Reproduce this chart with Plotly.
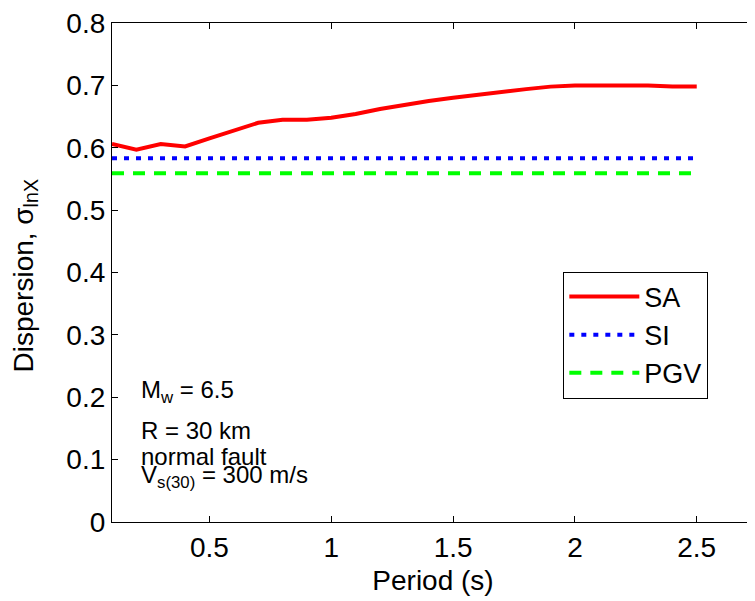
import plotly.graph_objects as go

period = [0.1, 0.2, 0.3, 0.4, 0.5, 0.6, 0.7, 0.8, 0.9, 1.0, 1.1, 1.2, 1.3, 1.4, 1.5,
          1.6, 1.7, 1.8, 1.9, 2.0, 2.1, 2.2, 2.3, 2.4, 2.5]
sa = [0.606, 0.597, 0.606, 0.602, 0.615, 0.627, 0.640, 0.645, 0.645, 0.648, 0.654,
      0.662, 0.669, 0.675, 0.680, 0.685, 0.689, 0.694, 0.698, 0.700, 0.700, 0.700,
      0.700, 0.698, 0.698]
si_value = 0.583
pgv_value = 0.559
si = [si_value for _ in period]
pgv = [pgv_value for _ in period]

x_ticks = [0.5, 1, 1.5, 2, 2.5]
x_ticklabels = ["0.5", "1", "1.5", "2", "2.5"]
y_ticks = [0, 0.1, 0.2, 0.3, 0.4, 0.5, 0.6, 0.7, 0.8]
y_ticklabels = ["0", "0.1", "0.2", "0.3", "0.4", "0.5", "0.6", "0.7", "0.8"]

FONT = "Liberation Sans, Arial, sans-serif"

fig = go.Figure()
fig.add_trace(go.Scatter(x=period, y=sa, mode="lines", name="SA",
                         line=dict(color="#ff0000", width=4)))
fig.add_trace(go.Scatter(x=period, y=si, mode="lines", name="SI",
                         line=dict(color="#0000ff", width=4, dash="5px,7px")))
fig.add_trace(go.Scatter(x=period, y=pgv, mode="lines", name="PGV",
                         line=dict(color="#00ff00", width=4, dash="12px,9px")))

ann_lines = [
    ("M<sub>w</sub> = 6.5", 0.209),
    ("R = 30 km", 0.146),
    ("normal fault", 0.105),
    ("V<sub>s(30)</sub> = 300 m/s", 0.073),
]
annotations = []
for txt, yv in ann_lines:
    annotations.append(dict(text=txt, x=0.21, y=yv, xref="x", yref="y",
                            xanchor="left", yanchor="middle", showarrow=False,
                            font=dict(family=FONT, size=24, color="black")))

# y-axis title placed as a rotated annotation for exact positioning
annotations.append(dict(text="Dispersion, σ<sub>lnX</sub>", x=0, y=0.5,
                        xref="paper", yref="paper", xanchor="center", yanchor="middle",
                        xshift=-87, yshift=-4, textangle=-90, showarrow=False,
                        font=dict(family=FONT, size=28, color="black")))

fig.update_layout(
    width=747, height=593,
    margin=dict(l=104, r=0, t=10, b=79),
    paper_bgcolor="white", plot_bgcolor="white",
    font=dict(family=FONT, size=28, color="black"),
    showlegend=True,
    legend=dict(x=0.703, y=0.502, xanchor="left", yanchor="top",
                bordercolor="black", borderwidth=1, bgcolor="white",
                font=dict(family=FONT, size=27, color="black"),
                itemwidth=70, tracegroupgap=0),
    annotations=annotations,
    xaxis=dict(range=[0.1, 2.735], tickvals=x_ticks, ticktext=x_ticklabels,
               ticks="inside", ticklen=6, tickcolor="black", showline=True,
               linecolor="black", linewidth=1.3, mirror="ticks", showgrid=False,
               zeroline=False, ticklabeloverflow="allow",
               title=dict(text="Period (s)", standoff=8, font=dict(size=28))),
    yaxis=dict(range=[0, 0.8], tickvals=y_ticks, ticktext=y_ticklabels,
               ticks="inside", ticklen=6, tickcolor="black", showline=True,
               linecolor="black", linewidth=1.3, mirror="ticks", showgrid=False,
               zeroline=False, ticklabeloverflow="allow"),
)

fig.write_html("out.html")
